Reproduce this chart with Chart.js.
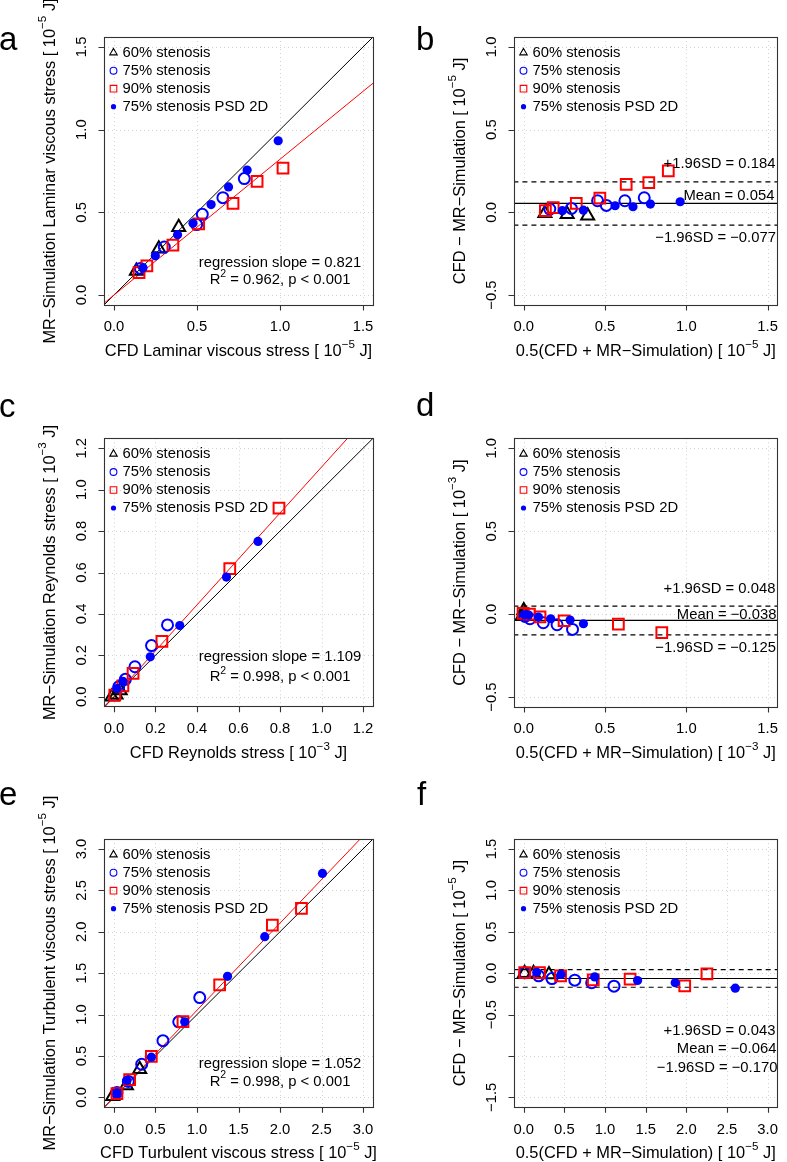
<!DOCTYPE html>
<html><head><meta charset="utf-8">
<script src="https://cdn.jsdelivr.net/npm/chart.js@4.4.1/dist/chart.umd.min.js"></script>
<style>
html,body{margin:0;padding:0;background:#fff;width:787px;height:1162px;overflow:hidden;}
canvas{position:absolute;left:0;top:0;}
</style></head><body>
<canvas id="pa" width="787" height="1162"></canvas>
<canvas id="pb" width="787" height="1162"></canvas>
<canvas id="pc" width="787" height="1162"></canvas>
<canvas id="pd" width="787" height="1162"></canvas>
<canvas id="pe" width="787" height="1162"></canvas>
<canvas id="pf" width="787" height="1162"></canvas>
<script>
// ================= DATA =================
const legendLabels = ['60% stenosis', '75% stenosis', '90% stenosis', '75% stenosis PSD 2D'];

// Panel a: Laminar viscous stress (CFD x, MR-Simulation y) [1e-5 J]
const a60  = [[0.135,0.145],[0.27,0.28],[0.39,0.41]];
const a75  = [[0.159,0.161],[0.303,0.29],[0.498,0.426],[0.532,0.488],[0.656,0.589],[0.785,0.704]];
const a90  = [[0.151,0.135],[0.198,0.177],[0.355,0.302],[0.51,0.431],[0.717,0.554],[0.862,0.688],[1.018,0.767]];
const aPSD = [[0.175,0.165],[0.249,0.237],[0.383,0.365],[0.476,0.434],[0.585,0.547],[0.69,0.654],[0.802,0.756],[0.989,0.933]];
const aSlope = 0.821;

// Panel b: Bland-Altman laminar (mean x, difference y)
const b60  = [[0.13,-0.005],[0.267,-0.012],[0.393,-0.02]];
const b75  = [[0.16,0.02],[0.293,0.024],[0.454,0.07],[0.508,0.042],[0.622,0.07],[0.741,0.088]];
const b90  = [[0.133,0.01],[0.181,0.028],[0.323,0.054],[0.468,0.086],[0.63,0.169],[0.769,0.18],[0.889,0.251]];
const bPSD = [[0.237,0.01],[0.367,0.013],[0.562,0.04],[0.672,0.034],[0.779,0.05],[0.962,0.064]];
const bStats = [0.054, 0.184, -0.077]; // mean, +1.96SD, -1.96SD

// Panel c: Reynolds stress [1e-3 J]
const c60  = [[-0.01,0.0],[0.01,0.01],[0.03,0.03]];
const c75  = [[0.023,0.048],[0.055,0.084],[0.101,0.145],[0.181,0.247],[0.258,0.347]];
const c90  = [[0.004,0.008],[0.043,0.052],[0.092,0.113],[0.231,0.268],[0.558,0.619],[0.795,0.911]];
const cPSD = [[0.014,0.04],[0.043,0.075],[0.175,0.193],[0.317,0.344],[0.542,0.578],[0.694,0.75]];
const cSlope = 1.109;

// Panel d: Bland-Altman Reynolds
const d60  = [[0.0,0.022],[0.005,-0.008],[-0.01,-0.012]];
const d75  = [[0.008,-0.014],[0.038,-0.028],[0.12,-0.052],[0.205,-0.064],[0.3,-0.092]];
const d90  = [[-0.004,0.004],[0.035,0.0],[0.1,-0.016],[0.248,-0.04],[0.582,-0.06],[0.849,-0.112]];
const dPSD = [[0.005,-0.004],[0.03,-0.006],[0.09,-0.018],[0.166,-0.028],[0.285,-0.036],[0.367,-0.058]];
const dStats = [-0.038, 0.048, -0.125];

// Panel e: Turbulent viscous stress [1e-5 J]
const e60  = [[-0.015,0.012],[0.15,0.143],[0.31,0.338]];
const e75  = [[0.036,0.06],[0.173,0.193],[0.334,0.4],[0.59,0.685],[0.78,0.912],[1.033,1.205]];
const e90  = [[0.036,0.044],[0.189,0.213],[0.45,0.494],[0.831,0.916],[1.273,1.358],[1.908,2.081],[2.258,2.282]];
const ePSD = [[0.036,0.053],[0.157,0.205],[0.45,0.485],[0.852,0.912],[1.368,1.462],[1.816,1.94],[2.511,2.704]];
const eSlope = 1.052;

// Panel f: Bland-Altman turbulent
const f60  = [[0.01,0.0],[0.12,0.0],[0.31,-0.015]];
const f75  = [[0.012,0.004],[0.183,-0.032],[0.347,-0.066],[0.628,-0.085],[0.835,-0.116],[1.11,-0.157]];
const f90  = [[0.012,0.007],[0.193,0.007],[0.453,-0.032],[0.855,-0.081],[1.308,-0.072],[1.98,-0.153],[2.253,-0.008]];
const fPSD = [[0.16,0.01],[0.459,-0.016],[0.873,-0.045],[1.4,-0.089],[1.863,-0.116],[2.602,-0.181]];
const fStats = [-0.064, 0.043, -0.170];

// tick values
const ticks15 = [0, 0.5, 1.0, 1.5];
const ticks12 = [0, 0.2, 0.4, 0.6, 0.8, 1.0, 1.2];
const ticks30 = [0, 0.5, 1.0, 1.5, 2.0, 2.5, 3.0];
const ticksBA = [-0.5, 0, 0.5, 1.0];
const ticksF  = [-1.5, -1.0, -0.5, 0, 0.5, 1.0, 1.5];
const ticksFLabels = ['−1.5', '', '−0.5', '0.0', '0.5', '1.0', '1.5'];

// ================= STYLE / LAYOUT =================
const FONT = '"Liberation Sans", Arial, Helvetica, sans-serif';
const FS = 14.8, SUPFS = 10.5;
const TFS = 16.4, TSUPFS = 11.6;
const W = 787, H = 1162;

const seriesStyle = [
  {pointStyle:'triangle', pointRadius:7.5, pointBorderColor:'#000', pointBackgroundColor:'rgba(0,0,0,0)', pointBorderWidth:2},
  {pointStyle:'circle', pointRadius:5.5, pointBorderColor:'#0000ff', pointBackgroundColor:'rgba(0,0,0,0)', pointBorderWidth:2},
  {pointStyle:'rect', pointRadius:7.6, pointBorderColor:'#ff0000', pointBackgroundColor:'rgba(0,0,0,0)', pointBorderWidth:2},
  {pointStyle:'circle', pointRadius:4.6, pointBorderColor:'#0000ff', pointBackgroundColor:'#0000ff', pointBorderWidth:0}
];

function fmt(v){ return (v<0?'−':'') + Math.abs(v).toFixed(1); }
function sup(base, exp, tail){ return [[base,false],[exp,true],[tail,false]]; }

function drawRich(ctx, parts, cx, cy, align, rot, fs, sfs){
  fs = fs || FS; sfs = sfs || SUPFS;
  ctx.save();
  ctx.translate(cx, cy);
  if (rot) ctx.rotate(rot);
  ctx.textBaseline = 'middle';
  ctx.textAlign = 'left';
  ctx.fillStyle = '#000';
  let ws = parts.map(p => { ctx.font = (p[1]?sfs:fs) + 'px ' + FONT; return ctx.measureText(p[0]).width; });
  let tot = ws.reduce((a,b)=>a+b,0);
  let x = align==='center' ? -tot/2 : (align==='right' ? -tot : 0);
  parts.forEach((p,i)=>{
    ctx.font = (p[1]?sfs:fs) + 'px ' + FONT;
    ctx.fillText(p[0], x, p[1] ? -fs*0.42 : 0);
    x += ws[i];
  });
  ctx.restore();
}

function legendSymbol(ctx, i, x, y){
  ctx.save();
  ctx.lineWidth = 1.1;
  ctx.beginPath();
  if (i===0){ const r=4.3; ctx.strokeStyle='#000';
    ctx.moveTo(x, y-r); ctx.lineTo(x+r*0.866, y+r/2); ctx.lineTo(x-r*0.866, y+r/2); ctx.closePath(); ctx.stroke(); }
  else if (i===1){ ctx.strokeStyle='#0000ff'; ctx.arc(x,y,3.4,0,Math.PI*2); ctx.stroke(); }
  else if (i===2){ ctx.strokeStyle='#ff0000'; ctx.rect(x-3.3,y-3.3,6.6,6.6); ctx.stroke(); }
  else { ctx.fillStyle='#0000ff'; ctx.arc(x,y,2.6,0,Math.PI*2); ctx.fill(); }
  ctx.restore();
}

const rframe = {
  id: 'rframe',
  beforeDatasetsDraw(chart){
    const P = chart.$panel, ctx = chart.ctx, a = chart.chartArea;
    const xs = chart.scales.x, ys = chart.scales.y;
    ctx.save();
    ctx.strokeStyle = '#d3d3d3'; ctx.lineWidth = 1; ctx.setLineDash([1,3]);
    P.xt.forEach(v=>{ const p=Math.round(xs.getPixelForValue(v))+0.5; ctx.beginPath(); ctx.moveTo(p,a.top); ctx.lineTo(p,a.bottom); ctx.stroke(); });
    P.yt.forEach(v=>{ const p=Math.round(ys.getPixelForValue(v))+0.5; ctx.beginPath(); ctx.moveTo(a.left,p); ctx.lineTo(a.right,p); ctx.stroke(); });
    ctx.restore();
  },
  afterDatasetsDraw(chart){
    const P = chart.$panel, ctx = chart.ctx, a = chart.chartArea;
    const xs = chart.scales.x, ys = chart.scales.y;
    ctx.save();
    // box
    ctx.strokeStyle = '#333'; ctx.lineWidth = 1.1; ctx.setLineDash([]);
    ctx.strokeRect(Math.round(a.left)+0.5, Math.round(a.top)+0.5, Math.round(a.right-a.left), Math.round(a.bottom-a.top));
    // tick marks
    ctx.beginPath();
    P.xt.forEach(v=>{ const p=Math.round(xs.getPixelForValue(v))+0.5; ctx.moveTo(p,a.bottom); ctx.lineTo(p,a.bottom+5.5); });
    P.yt.forEach(v=>{ const p=Math.round(ys.getPixelForValue(v))+0.5; ctx.moveTo(a.left,p); ctx.lineTo(a.left-5.5,p); });
    ctx.stroke();
    // tick labels
    P.xt.forEach((v,i)=>{ drawRich(ctx, [[P.xl?P.xl[i]:fmt(v),false]], xs.getPixelForValue(v), a.bottom+22.3, 'center', 0); });
    P.yt.forEach((v,i)=>{ const t = P.yl?P.yl[i]:fmt(v); if(t) drawRich(ctx, [[t,false]], a.left-22, ys.getPixelForValue(v), 'center', -Math.PI/2); });
    // axis titles
    drawRich(ctx, P.xtitle, (a.left+a.right)/2, a.bottom+46.5, 'center', 0, TFS, TSUPFS);
    drawRich(ctx, P.ytitle, a.left-54, (a.top+a.bottom)/2, 'center', -Math.PI/2, TFS, TSUPFS);
    // legend
    legendLabels.forEach((t,i)=>{
      const y = a.top + 15.7 + 18*i;
      legendSymbol(ctx, i, a.left+9.5, y);
      drawRich(ctx, [[t,false]], a.left+18.5, y, 'left', 0);
    });
    // annotations
    P.notes.forEach(n=>{
      let x = n.xv!==undefined ? xs.getPixelForValue(n.xv) : a.right + n.dx;
      let y = n.yv!==undefined ? ys.getPixelForValue(n.yv) + (n.dy||0) : n.ypx;
      drawRich(ctx, n.parts, x, y, n.align, 0);
    });
    // panel letter
    ctx.fillStyle = '#000'; ctx.font = '33px ' + FONT; ctx.textBaseline = 'alphabetic'; ctx.textAlign = 'left';
    ctx.fillText(P.letter, P.lx, P.ly);
    ctx.restore();
  }
};

function pts(arr){ return arr.map(p=>({x:p[0], y:p[1]})); }

function makePanel(id, P){
  const ds = [];
  const [xmin,xmax] = P.xr, [ymin,ymax] = P.yr;
  const lo = xmin - 1, hi = xmax + 1;
  if (P.slope !== undefined){
    ds.push({type:'line', data:[{x:lo,y:lo},{x:hi,y:hi}], borderColor:'#000', borderWidth:1, pointRadius:0, fill:false, order:10});
    ds.push({type:'line', data:[{x:lo,y:lo*P.slope},{x:hi,y:hi*P.slope}], borderColor:'#ff0000', borderWidth:1, pointRadius:0, fill:false, order:9});
  }
  if (P.stats){
    P.stats.forEach((s,i)=>{
      ds.push({type:'line', data:[{x:lo,y:s},{x:hi,y:s}], borderColor:'#000', borderWidth:1.1, borderDash: i===0?[]:[5,4], pointRadius:0, fill:false, order:10});
    });
  }
  P.series.forEach((s,i)=>{
    ds.push(Object.assign({type:'scatter', label:legendLabels[i], data:pts(s), order:4-i}, seriesStyle[i]));
  });
  const chart = new Chart(document.getElementById(id), {
    type:'scatter',
    data:{datasets:ds},
    options:{
      responsive:false, animation:false, devicePixelRatio:1, events:[],
      layout:{padding:{left:P.box[0], top:P.box[1], right:W-P.box[2], bottom:H-P.box[3]}},
      plugins:{legend:{display:false}, tooltip:{enabled:false}},
      scales:{
        x:{type:'linear', min:xmin, max:xmax, display:false},
        y:{type:'linear', min:ymin, max:ymax, display:false}
      }
    },
    plugins:[{id:'panelcfg', beforeInit(c){ c.$panel = P; }}, rframe]
  });
  return chart;
}

const X5 = ' J]';
makePanel('pa', {
  letter:'a', lx:-1, ly:50,
  box:[104,37,373,305], xr:[-0.06,1.56], yr:[-0.06,1.56], xt:ticks15, yt:ticks15,
  series:[a60,a75,a90,aPSD], slope:aSlope,
  xtitle: sup('CFD Laminar viscous stress [ 10','−5',X5),
  ytitle: sup('MR−Simulation Laminar viscous stress [ 10','−5',X5),
  notes:[
    {xv:1.0, yv:0.197, align:'center', parts:[['regression slope = 0.821',false]]},
    {xv:1.0, yv:0.09, align:'center', parts:[['R',false],['2',true],[' = 0.962, p < 0.001',false]]}
  ]
});
makePanel('pb', {
  letter:'b', lx:416, ly:50,
  box:[514,37,782,305], xr:[-0.06,1.56], yr:[-0.56,1.06], xt:ticks15, yt:ticksBA,
  series:[b60,b75,b90,bPSD], stats:bStats,
  xtitle: sup('0.5(CFD + MR−Simulation) [ 10','−5',X5),
  ytitle: sup('CFD − MR−Simulation [ 10','−5',X5),
  notes:[
    {dx:-2, yv:bStats[1], dy:-18, align:'right', parts:[['+1.96SD = 0.184',false]]},
    {dx:-3, yv:bStats[0], dy:-7.5, align:'right', parts:[['Mean = 0.054',false]]},
    {dx:-1.5, yv:bStats[2], dy:12.8, align:'right', parts:[['−1.96SD = −0.077',false]]}
  ]
});
makePanel('pc', {
  letter:'c', lx:-1, ly:416.5,
  box:[104,438.3,373,706.7], xr:[-0.048,1.248], yr:[-0.048,1.248], xt:ticks12, yt:ticks12,
  series:[c60,c75,c90,cPSD], slope:cSlope,
  xtitle: sup('CFD Reynolds stress [ 10','−3',X5),
  ytitle: sup('MR−Simulation Reynolds stress [ 10','−3',X5),
  notes:[
    {xv:0.8, yv:0.19, align:'center', parts:[['regression slope = 1.109',false]]},
    {xv:0.8, yv:0.096, align:'center', parts:[['R',false],['2',true],[' = 0.998, p < 0.001',false]]}
  ]
});
makePanel('pd', {
  letter:'d', lx:416, ly:416,
  box:[514,438.3,782,707], xr:[-0.06,1.56], yr:[-0.56,1.06], xt:ticks15, yt:ticksBA,
  series:[d60,d75,d90,dPSD], stats:dStats,
  xtitle: sup('0.5(CFD + MR−Simulation) [ 10','−3',X5),
  ytitle: sup('CFD − MR−Simulation [ 10','−3',X5),
  notes:[
    {dx:-2, yv:dStats[1], dy:-17, align:'right', parts:[['+1.96SD = 0.048',false]]},
    {dx:-1, yv:dStats[0], dy:-6, align:'right', parts:[['Mean = −0.038',false]]},
    {dx:-1.5, yv:dStats[2], dy:13, align:'right', parts:[['−1.96SD = −0.125',false]]}
  ]
});
makePanel('pe', {
  letter:'e', lx:-1, ly:804.5,
  box:[104,839,373,1107.3], xr:[-0.12,3.12], yr:[-0.12,3.12], xt:ticks30, yt:ticks30,
  series:[e60,e75,e90,ePSD], slope:eSlope,
  xtitle: sup('CFD Turbulent viscous stress [ 10','−5',X5),
  ytitle: sup('MR−Simulation Turbulent viscous stress [ 10','−5',X5),
  notes:[
    {xv:2.0, yv:0.40, align:'center', parts:[['regression slope = 1.052',false]]},
    {xv:2.0, yv:0.19, align:'center', parts:[['R',false],['2',true],[' = 0.998, p < 0.001',false]]}
  ]
});
makePanel('pf', {
  letter:'f', lx:417, ly:804.5,
  box:[514,839,782,1107.3], xr:[-0.12,3.12], yr:[-1.62,1.62], xt:ticks30, yt:ticksF, yl:ticksFLabels,
  series:[f60,f75,f90,fPSD], stats:fStats,
  xtitle: sup('0.5(CFD + MR−Simulation) [ 10','−5',X5),
  ytitle: sup('CFD − MR−Simulation [ 10','−5',X5),
  notes:[
    {dx:-2, yv:-0.70, align:'right', parts:[['+1.96SD = 0.043',false]]},
    {dx:-1, yv:-0.92, align:'right', parts:[['Mean = −0.064',false]]},
    {dx:0, yv:-1.15, align:'right', parts:[['−1.96SD = −0.170',false]]}
  ]
});
</script>
</body></html>
